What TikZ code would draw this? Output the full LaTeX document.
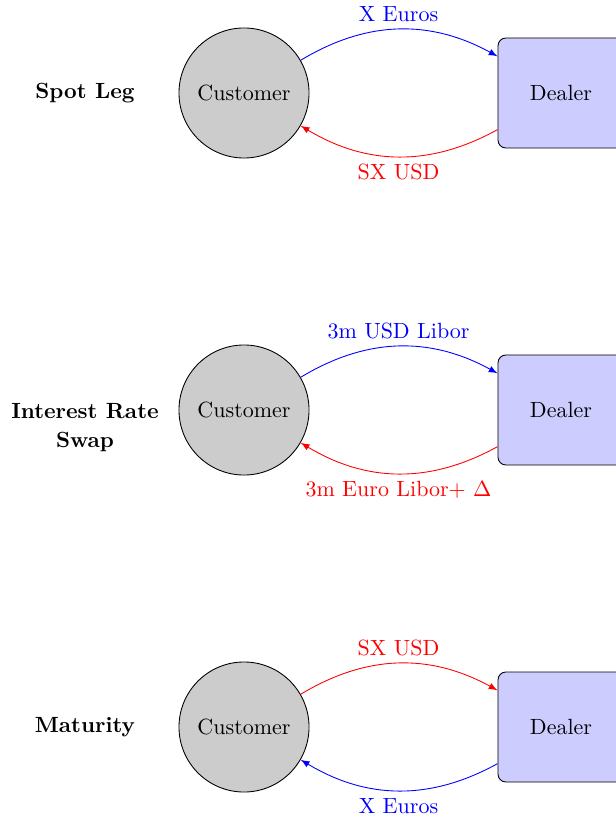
\documentclass[tikz,border=0pt]{standalone}
\usetikzlibrary{arrows}
\begin{document}
\begin{tikzpicture}[x=0.4545pt,y=-0.4545pt,
  party/.style={circle,draw,fill=gray!40,minimum size=59.1pt,inner sep=0pt},
  bank/.style={rectangle,rounded corners=3.6pt,draw,fill=blue!20,minimum width=57.3pt,minimum height=50pt},
  leg/.style={font=\bfseries,align=center},
  flow/.style={-latex,bend left=30}]
\useasboundingbox (0,0) rectangle (616,819);

% Spot leg
\node[leg] (l1) at (85,93) {Spot Leg};
\node[party] (c1) at (244,93) {Customer};
\node[bank] (d1) at (561,93) {Dealer};
\draw[flow,blue] (c1) to node[above] {X Euros} (d1);
\draw[flow,red] (d1) to node[below] {SX USD} (c1);

% Interest rate swap
\node[leg] (l2) at (85,427.5) {Interest Rate\\[1.4pt]Swap};
\node[party] (c2) at (244,410) {Customer};
\node[bank] (d2) at (561,410) {Dealer};
\draw[flow,blue] (c2) to node[above] {3m USD Libor} (d2);
\draw[flow,red] (d2) to node[below] {3m Euro Libor+ $\Delta$} (c2);

% Maturity
\node[leg] (l3) at (85,727) {Maturity};
\node[party] (c3) at (244,727) {Customer};
\node[bank] (d3) at (561,727) {Dealer};
\draw[flow,red] (c3) to node[above] {SX USD} (d3);
\draw[flow,blue] (d3) to node[below] {X Euros} (c3);
\end{tikzpicture}
\end{document}
